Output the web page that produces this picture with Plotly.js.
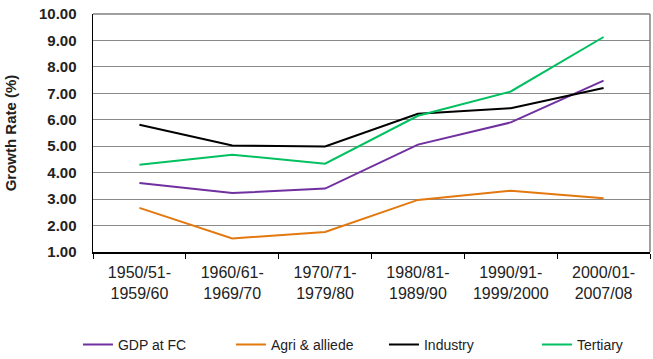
<!DOCTYPE html>
<html><head><meta charset="utf-8">
<script src="https://cdn.plot.ly/plotly-3.0.1.min.js"></script>
<style>html,body{margin:0;padding:0;background:#fff}#chart{width:653px;height:359px}</style>
</head><body><div id="chart"></div>
<script>
const categories = ["1950/51-<br>1959/60","1960/61-<br>1969/70","1970/71-<br>1979/80","1980/81-<br>1989/90","1990/91-<br>1999/2000","2000/01-<br>2007/08"];
const gdp = [3.61, 3.23, 3.40, 5.06, 5.90, 7.48];
const agri = [2.67, 1.51, 1.76, 2.97, 3.32, 3.03];
const industry = [5.81, 5.03, 4.99, 6.23, 6.44, 7.20];
const tertiary = [4.30, 4.68, 4.34, 6.15, 7.07, 9.13];
const seriesNames = ["GDP at FC", "Agri & alliede", "Industry", "Tertiary"];
const seriesColors = ["#7030A0", "#E3780F", "#000000", "#00C060"];
const seriesValues = [gdp, agri, industry, tertiary];

const traces = seriesValues.map((v, i) => ({
  type: "scatter", mode: "lines", x: categories, y: v, name: seriesNames[i],
  line: {color: seriesColors[i], width: 2}
}));

const FONT = "Liberation Sans, Arial, sans-serif";
const layout = {
  width: 653, height: 359,
  margin: {l: 93, r: 3, t: 14, b: 107, autoexpand: false},
  paper_bgcolor: "#fff", plot_bgcolor: "#fff",
  showlegend: true,
  legend: {orientation: "h", x: -0.027, xanchor: "left",
           y: -0.39, yanchor: "middle", entrywidth: 108, itemwidth: 30,
           font: {family: FONT, size: 14, color: "#222"}},
  xaxis: {type: "category", range: [-0.5, 5.5], tickson: "boundaries", ticks: "outside", ticklen: 5, tickcolor: "#000",
          showline: true, linecolor: "#000", linewidth: 1.5, mirror: false, showgrid: false,
          ticklabelstandoff: 5,
          tickfont: {family: FONT, size: 16, color: "#222"}},
  yaxis: {range: [1, 10], dtick: 1, tickformat: ".2f", showline: true, linecolor: "#000", linewidth: 1.5,
          showgrid: true, gridcolor: "#8a8a8a", gridwidth: 1, ticks: "", zeroline: false,
          ticklabelstandoff: 12,
          tickfont: {family: FONT, size: 15, color: "#222", weight: "bold"},
          title: {text: "Growth Rate (%)", standoff: 18,
                  font: {family: FONT, size: 15, color: "#222", weight: "bold"}}},
  shapes: [
    {type: "line", xref: "paper", yref: "paper", x0: 1, x1: 1, y0: 0, y1: 1, line: {color: "#808080", width: 1.5}},
    {type: "line", xref: "paper", yref: "paper", x0: 0, x1: 1, y0: 1, y1: 1, line: {color: "#808080", width: 1.5}}
  ]
};
Plotly.newPlot("chart", traces, layout, {displayModeBar: false, staticPlot: true});
</script></body></html>
